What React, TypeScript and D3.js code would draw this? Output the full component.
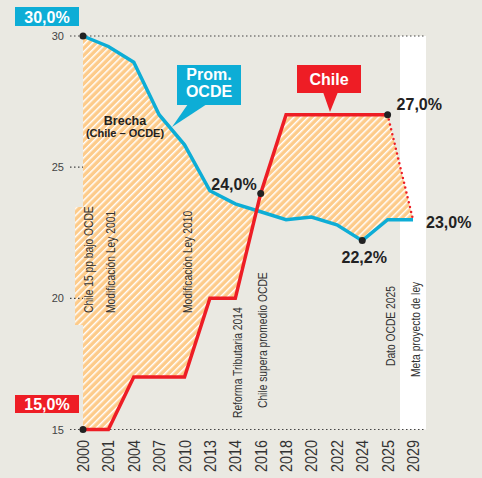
import React from 'react';
import * as d3 from 'd3';

const years = ['2000', '2001', '2004', '2007', '2010', '2013', '2014', '2016', '2018', '2020', '2022', '2024', '2025', '2029'];
const ocde = [30, 29.6, 29.0, 27.0, 25.85, 24.1, 23.6, 23.3, 23.0, 23.1, 22.8, 22.2, 23.0, 23.0];
const chile = [15, 15, 17, 17, 17, 20, 20, 24.0, 27, 27, 27, 27, 27, 23];
const yTicks = [30, 25, 20, 15];
const annotations = [
  { year: '2000', text: 'Chile 15 pp bajo OCDE' },
  { year: '2001', text: 'Modificación Ley 2001' },
  { year: '2010', text: 'Modificación Ley 2010' },
  { year: '2014', text: 'Reforma Tributaria 2014' },
  { year: '2016', text: 'Chile supera promedio OCDE' },
  { year: '2025', text: 'Dato OCDE 2025' },
  { year: '2029', text: 'Meta proyecto de ley' },
];
// bottom anchor (layout) of each annotation, same order
const annBottom = [313, 313, 313, 418, 408, 366, 377];
const annDx = [10, 7, 7, 7, 6, 7, 7];

const BG = '#EAE9E2';
const BLUE = '#0DADD6';
const RED = '#EE1D25';
const ORANGE = '#FDCB8A';
const FONT = '"Liberation Sans", Arial, sans-serif';

export default function App() {
  const W = 482, H = 478;
  const x = d3.scalePoint<string>().domain(years).range([83, 413]);
  const y = d3.scaleLinear().domain([15, 30]).range([429.5, 36]);

  const idx = years.map((_, i) => i);
  const area = d3.area<number>()
    .x((i) => x(years[i])!)
    .y0((i) => y(chile[i]))
    .y1((i) => y(ocde[i]));
  const line = d3.line<number>().x((i) => x(years[i])!);
  const blueD = line.y((i) => y(ocde[i]))(idx)!;
  const redSolid = d3.line<number>().x((i) => x(years[i])!).y((i) => y(chile[i]))(idx.slice(0, 13))!;
  const redDot = d3.line<number>().x((i) => x(years[i])!).y((i) => y(chile[i]))(idx.slice(12))!;

  const px = (yr: string) => x(yr)!;
  const last = years.length - 1;
  const i2016 = years.indexOf('2016');
  const i2024 = years.indexOf('2024');
  const i2025 = years.indexOf('2025');

  const fmt = (v: number) => v.toFixed(1).replace('.', ',') + '%';

  return (
    <svg width={W} height={H} style={{ position: 'absolute', left: 0, top: 0 }} fontFamily={FONT}>
      <defs>
        <pattern id="hatch" patternUnits="userSpaceOnUse" width={5} height={5} patternTransform="rotate(45)">
          <rect width={5} height={5} fill={ORANGE} />
          <rect x={0} y={0} width={1.5} height={5} fill="#fff" />
        </pattern>
      </defs>
      <rect width={W} height={H} fill={BG} />
      {/* white band for projection */}
      <rect x={400} y={y(30)} width={26} height={y(15) - y(30)} fill="#fff" />

      {/* area between */}
      <path d={area(idx)!} fill="url(#hatch)" />
      <rect x={75} y={207} width={px('2000') - 75 + 0.5} height={118} fill="url(#hatch)" />

      {/* grid lines */}
      {[30, 15].map((t) => (
        <line key={t} x1={70} x2={426} y1={y(t)} y2={y(t)} stroke="#444" strokeWidth={1.2} strokeDasharray="1.5,2.5" />
      ))}
      {[25, 20].map((t) => (
        <line key={t} x1={70} x2={83} y1={y(t)} y2={y(t)} stroke="#444" strokeWidth={1.2} strokeDasharray="1.5,2.5" />
      ))}
      {yTicks.map((t) => (
        <text key={t} x={64} y={y(t) + 4} textAnchor="end" fontSize={11} fill="#444">{t}</text>
      ))}

      {/* annotations */}
      {annotations.map((a, i) => (
        <text key={a.text} transform={`translate(${px(a.year) + annDx[i]},${annBottom[i]}) rotate(-90) scale(0.79,1)`}
          fontSize={13} fill="#333">{a.text}</text>
      ))}

      {/* x axis labels */}
      {years.map((yr) => (
        <text key={yr} transform={`translate(${px(yr) + 6},440) rotate(-90) scale(0.9,1)`} textAnchor="end" fontSize={16} fill="#333">{yr}</text>
      ))}

      {/* lines */}
      <path d={blueD} fill="none" stroke={BLUE} strokeWidth={3.5} strokeLinejoin="miter" />
      <path d={redSolid} fill="none" stroke={RED} strokeWidth={3.5} strokeLinejoin="miter" />
      <path d={redDot} fill="none" stroke={RED} strokeWidth={2.5} strokeDasharray="0,5" strokeLinecap="round" />

      {/* dots */}
      <circle cx={px('2000')} cy={y(ocde[0])} r={3.5} fill="#222" />
      <circle cx={px('2000')} cy={y(chile[0])} r={3.5} fill="#222" />
      <circle cx={px('2016')} cy={y(chile[i2016])} r={3.5} fill="#222" />
      <circle cx={px('2025')} cy={y(chile[i2025])} r={3.5} fill="#222" />
      <circle cx={px('2024')} cy={y(ocde[i2024])} r={3.5} fill="#222" />

      {/* value labels */}
      <text x={px('2016') - 4} y={y(chile[i2016]) - 3} textAnchor="end" fontSize={16} fontWeight="bold" fill="#222">{fmt(chile[i2016])}</text>
      <text x={px('2025') + 9} y={y(chile[i2025]) - 5} fontSize={16} fontWeight="bold" fill="#222">{fmt(chile[i2025])}</text>
      <text x={px('2024') + 2} y={y(ocde[i2024]) + 22} textAnchor="middle" fontSize={16} fontWeight="bold" fill="#222">{fmt(ocde[i2024])}</text>
      <text x={px('2029') + 13} y={y(ocde[last]) + 8} fontSize={16} fontWeight="bold" fill="#222">{fmt(ocde[last])}</text>

      {/* start value boxes */}
      <rect x={15} y={7} width={64} height={19} fill={BLUE} />
      <text x={47} y={23} textAnchor="middle" fontSize={16} fontWeight="bold" fill="#fff">{fmt(ocde[0])}</text>
      <rect x={15} y={395} width={64} height={18} fill={RED} />
      <text x={47} y={410} textAnchor="middle" fontSize={16} fontWeight="bold" fill="#fff">{fmt(chile[0])}</text>

      {/* Brecha */}
      <text x={125} y={125} textAnchor="middle" fontSize={12.5} fontWeight="bold" fill="#222">Brecha</text>
      <text x={125} y={137} textAnchor="middle" fontSize={11} fontWeight="bold" fill="#222">(Chile – OCDE)</text>

      {/* Prom. OCDE callout */}
      <polygon points="188,104 207,104 172,127" fill={BLUE} />
      <rect x={177} y={65} width={64} height={40} fill={BLUE} />
      <text x={209} y={80} textAnchor="middle" fontSize={16} fontWeight="bold" fill="#fff">Prom.</text>
      <text x={209} y={97} textAnchor="middle" fontSize={16} fontWeight="bold" fill="#fff">OCDE</text>

      {/* Chile callout */}
      <polygon points="323,92 338,92 330,112" fill={RED} />
      <rect x={297} y={65} width={64} height={28} fill={RED} />
      <text x={329} y={85} textAnchor="middle" fontSize={16} fontWeight="bold" fill="#fff">Chile</text>
    </svg>
  );
}
